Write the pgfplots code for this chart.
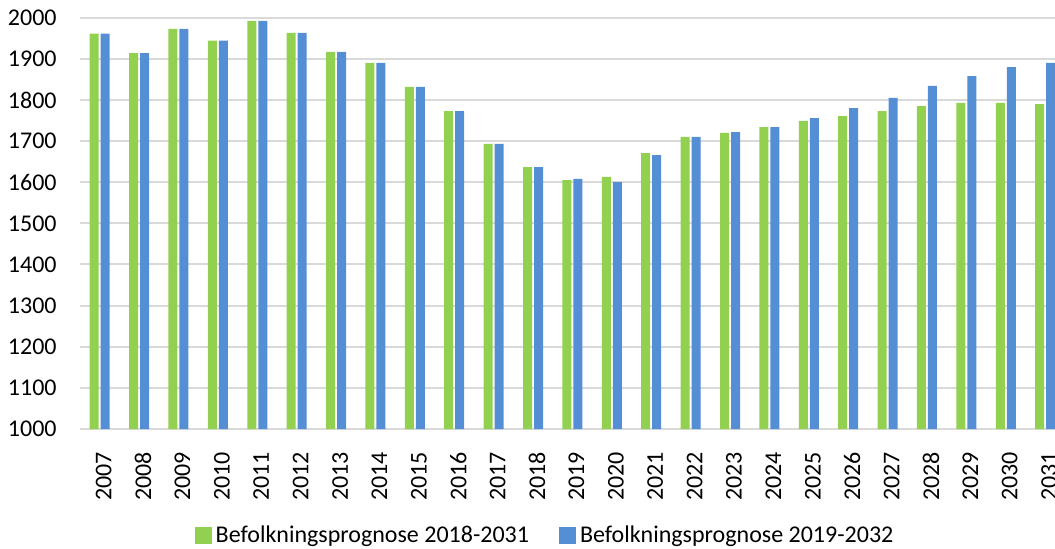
\documentclass[border=0pt]{standalone}
\usepackage{fontspec}
\setmainfont{Carlito}
\usepackage{pgfplots}
\pgfplotsset{compat=1.18}
\definecolor{grn}{HTML}{92D050}
\definecolor{blu}{HTML}{548ED5}
\definecolor{grd}{HTML}{D9D9D9}
\pgfplotsset{sqleg/.style={legend image code/.code={\fill[##1] (0pt,-4.25pt) rectangle (8.5pt,4.25pt);}}}
\begin{document}
\begin{tikzpicture}
\begin{axis}[
  at={(0,0)}, anchor=south west,
  scale only axis, width=487.5pt, height=205.65pt,
  xmin=-0.5, xmax=24.25, ymin=1000, ymax=2000,
  ybar=1pt, bar width=4.5pt,
  axis line style={draw=none},
  major tick length=0pt,
  ytick={1000,1100,...,2000},
  xtick={0,...,24},
  xticklabels={2007,2008,2009,2010,2011,2012,2013,2014,2015,2016,2017,2018,2019,2020,2021,2022,2023,2024,2025,2026,2027,2028,2029,2030,2031},
  ymajorgrids, grid style={draw=grd, line width=1pt},
  /pgf/number format/1000 sep={},
  /pgf/number format/assume math mode=true,
  tick label style={font=\fontsize{12}{14}\selectfont},
  yticklabel style={anchor=east, inner xsep=11.5pt},
  xticklabel style={rotate=90, anchor=east, inner xsep=11.3pt, yshift=-2pt},
  legend columns=2,
  legend style={at={(0.478,-0.26)}, anchor=center, draw=none,
    font=\fontsize{12}{14}\selectfont,
    /tikz/every even column/.append style={column sep=13pt}},
]
\addplot[fill=grn, draw=none, sqleg] coordinates {
(0,1961) (1,1914) (2,1973) (3,1944) (4,1992) (5,1963) (6,1917) (7,1890) (8,1832) (9,1773)
(10,1693) (11,1637) (12,1605) (13,1613) (14,1671) (15,1710) (16,1720) (17,1734) (18,1749) (19,1761)
(20,1773) (21,1785) (22,1793) (23,1793) (24,1790)};
\addlegendentry{Befolkningsprognose 2018-2031}
\addplot[fill=blu, draw=none, sqleg] coordinates {
(0,1961) (1,1914) (2,1973) (3,1944) (4,1992) (5,1963) (6,1917) (7,1890) (8,1832) (9,1773)
(10,1693) (11,1637) (12,1608) (13,1600) (14,1666) (15,1710) (16,1722) (17,1734) (18,1756) (19,1780)
(20,1805) (21,1834) (22,1858) (23,1880) (24,1890)};
\addlegendentry{Befolkningsprognose 2019-2032}
\end{axis}
\pgfresetboundingbox
\path[use as bounding box] (-40pt,-59.5pt) rectangle (487.5pt,214.5pt);
\end{tikzpicture}
\end{document}
